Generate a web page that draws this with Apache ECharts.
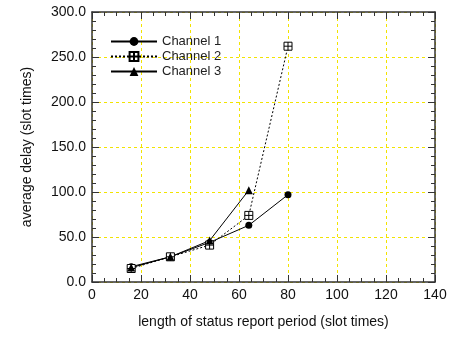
<!DOCTYPE html>
<html><head><meta charset="utf-8">
<script src="https://cdn.jsdelivr.net/npm/echarts@6/dist/echarts.min.js"></script>
<style>html,body{margin:0;padding:0;background:#fff}#c{width:457px;height:337px}</style>
</head><body><div id="c"></div>
<script>
var xValues = [16, 32, 48, 64, 80];
var channel1 = [17, 28, 44, 63, 97];
var channel2 = [15, 28, 41, 74, 262];
var channel3 = [16, 28, 46, 102];
var seriesNames = ['Channel 1', 'Channel 2', 'Channel 3'];

function pairs(ys){ return ys.map(function(y,i){ return [xValues[i], y]; }); }
var F = 'Liberation Sans, Arial, sans-serif';
function gridLine(){ return {show:true, lineStyle:{color:'#f2e400', type:[3,3], width:1}}; }
var boxSym = 'path://M0,0H10V10H0Z M5,0V10 M0,5H10';
var AX = '#333';

var chart = echarts.init(document.getElementById('c'));
chart.setOption({
  animation:false,
  grid:{left:92, width:343, top:12, height:270},
  legend:{
    left:105, top:30, orient:'vertical', itemGap:2, itemWidth:46, itemHeight:11,
    textStyle:{fontFamily:F, fontSize:13, color:'#222'},
    data:seriesNames
  },
  xAxis:[{
    type:'value', min:0, max:140, interval:20, position:'bottom',
    name:'length of status report period (slot times)', nameLocation:'middle', nameGap:33,
    nameTextStyle:{fontFamily:F, fontSize:14, color:'#111'},
    axisLine:{show:true, lineStyle:{color:AX, width:1.5}},
    axisTick:{show:true, inside:true, length:7, lineStyle:{color:AX}},
    minorTick:{show:true, splitNumber:4, length:4, lineStyle:{color:AX}},
    axisLabel:{fontFamily:F, fontSize:14, color:'#111', margin:6},
    splitLine:gridLine()
  },{
    type:'value', min:0, max:140, interval:20, position:'top',
    axisLine:{show:true, onZero:false, lineStyle:{color:AX, width:1.5}},
    axisTick:{show:true, inside:true, length:7, lineStyle:{color:AX}},
    minorTick:{show:true, splitNumber:4, length:4, lineStyle:{color:AX}},
    axisLabel:{show:false}, splitLine:{show:false}
  }],
  yAxis:[{
    type:'value', min:0, max:300, interval:50, position:'left',
    name:'average delay (slot times)', nameLocation:'middle', nameGap:58,
    nameTextStyle:{fontFamily:F, fontSize:14, color:'#111'},
    axisLine:{show:true, lineStyle:{color:AX, width:1.5}},
    axisTick:{show:true, inside:true, length:7, lineStyle:{color:AX}},
    minorTick:{show:true, splitNumber:5, length:4, lineStyle:{color:AX}},
    axisLabel:{fontFamily:F, fontSize:14, color:'#111', margin:6,
      formatter:function(v){return v.toFixed(1);}},
    splitLine:gridLine()
  },{
    type:'value', min:0, max:300, interval:50, position:'right',
    axisLine:{show:true, onZero:false, lineStyle:{color:AX, width:1.5}},
    axisTick:{show:true, inside:true, length:7, lineStyle:{color:AX}},
    minorTick:{show:true, splitNumber:5, length:4, lineStyle:{color:AX}},
    axisLabel:{show:false}, splitLine:{show:false}
  }],
  series:[{
    name:seriesNames[0], type:'line', data:pairs(channel1),
    symbol:'circle', symbolSize:7,
    lineStyle:{color:'#000', width:1}, itemStyle:{color:'#000'}
  },{
    name:seriesNames[1], type:'line', data:pairs(channel2),
    symbol:boxSym, symbolSize:8,
    lineStyle:{color:'#000', width:1, type:[2,2]},
    itemStyle:{color:'#fff', borderColor:'#000', borderWidth:1}
  },{
    name:seriesNames[2], type:'line', data:pairs(channel3),
    symbol:'triangle', symbolSize:8,
    lineStyle:{color:'#000', width:1}, itemStyle:{color:'#000'}
  }]
});
</script></body></html>
